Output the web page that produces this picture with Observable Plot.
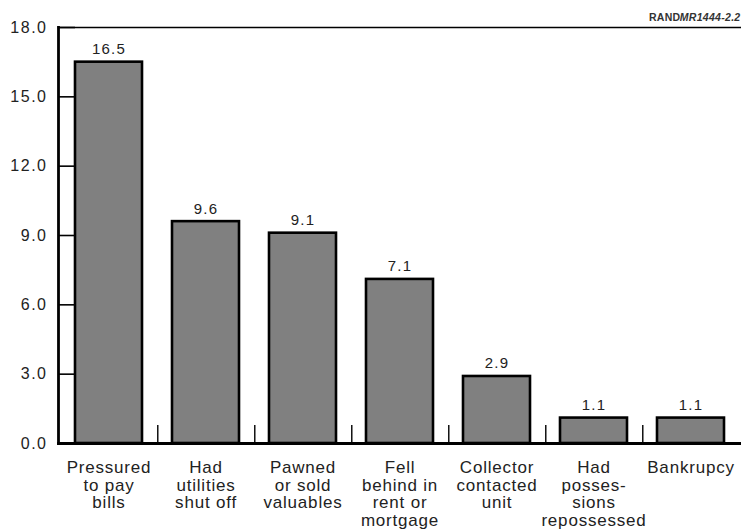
<!DOCTYPE html>
<html>
<head>
<meta charset="utf-8">
<script src="https://cdn.jsdelivr.net/npm/d3@7"></script>
<script src="https://cdn.jsdelivr.net/npm/@observablehq/plot@0.6"></script>
<style>
  html, body { margin: 0; padding: 0; background: #fff; }
  #chart svg { display: block; }
  #chart svg g[font-size="16"] text { letter-spacing: 1.5px; }
  #chart svg g[font-size="15"] text { letter-spacing: 1.2px; }
  #chart svg g[font-size="17"] text { letter-spacing: 0.8px; }
  #chart svg g[font-size="10.5"] text { letter-spacing: 0.3px; }
</style>
</head>
<body>
<div id="chart"></div>
<script>
// Data
const categories = [
  "Pressured\nto pay\nbills",
  "Had\nutilities\nshut off",
  "Pawned\nor sold\nvaluables",
  "Fell\nbehind in\nrent or\nmortgage",
  "Collector\ncontacted\nunit",
  "Had\nposses-\nsions\nrepossessed",
  "Bankrupcy"
];
const values = [16.5, 9.6, 9.1, 7.1, 2.9, 1.1, 1.1];
const yTicks = [0, 3, 6, 9, 12, 15, 18];
const sourceNote = ["RAND", "MR1444-2.2"];

const data = categories.map((c, i) => ({category: c, value: values[i]}));

const W = 741, H = 529;
const mL = 58, mR = 0, mT = 27, mB = 86;
const step = (W - mL - mR) / categories.length;

const chart = Plot.plot({
  width: W,
  height: H,
  marginLeft: mL,
  marginRight: mR,
  marginTop: mT,
  marginBottom: mB,
  style: {fontFamily: "Liberation Sans, Arial, sans-serif", background: "#fff", color: "#222"},
  x: {type: "band", domain: categories, paddingInner: 0.313, paddingOuter: 0.1565, axis: null},
  y: {domain: [0, 18], axis: null},
  marks: [
    Plot.barY(data, {x: "category", y: "value", fill: "#808080", stroke: "#000", strokeWidth: 2.6}),
    // inner y ticks
    Plot.tickY(yTicks.slice(1), {y: d => d, stroke: "#000", strokeWidth: 1.6, insetRight: (W - mL - mR) - 17}),
    // y tick labels
    Plot.axisY({ticks: yTicks, tickSize: 0, tickPadding: 11, tickFormat: d => d.toFixed(1), fontSize: 16, label: null, fill: "#222"}),
    // category dividers
    Plot.tickX(categories.slice(0, -1), {x: d => d, dx: step / 2, stroke: "#000", strokeWidth: 1.4, insetTop: (H - mT - mB) - 18}),
    // frame lines
    Plot.frame({anchor: "left", stroke: "#000", strokeWidth: 2.8}),
    Plot.frame({anchor: "bottom", stroke: "#000", strokeWidth: 2.8}),
    Plot.frame({anchor: "top", stroke: "#000", strokeWidth: 1.5}),
    // value labels
    Plot.text(data, {x: "category", y: "value", text: d => d.value.toFixed(1), lineAnchor: "bottom", dy: -8, fontSize: 15, fill: "#222"}),
    // category labels
    Plot.text(data, {x: "category", y: () => 0, text: "category", lineAnchor: "top", dy: 16.6, fontSize: 17, lineHeight: 1.05, fill: "#222"}),
    // source note
    Plot.text([sourceNote[1]], {frameAnchor: "top-right", text: d => d, textAnchor: "end", lineAnchor: "bottom", dy: -6.3, dx: -1, fontSize: 10.5, fontStyle: "italic", fontWeight: "bold", fill: "#333"}),
    Plot.text([sourceNote[0]], {frameAnchor: "top-right", text: d => d, textAnchor: "end", lineAnchor: "bottom", dy: -6.3, dx: -61, fontSize: 10.5, fontWeight: "bold", fill: "#333"})
  ]
});

document.getElementById("chart").appendChild(chart);
</script>
</body>
</html>
